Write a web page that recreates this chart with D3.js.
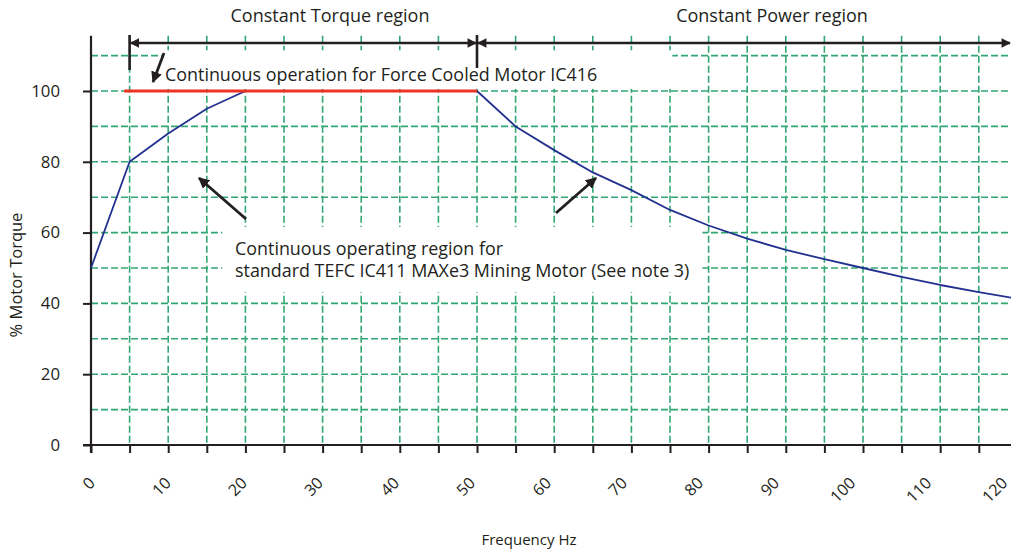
<!DOCTYPE html>
<html>
<head>
<meta charset="utf-8">
<script src="https://cdn.jsdelivr.net/npm/d3@7"></script>
<style>
  html, body { margin: 0; padding: 0; background: #fff; }
  svg { display: block; font-family: "Open Sans", "Noto Sans", sans-serif; }
  text { fill: #231f20; }
</style>
</head>
<body>
<svg id="chart" width="1011" height="553"></svg>
<script>
// ---- data ----
const frequency = [0, 5, 10, 15, 20, 50, 55, 60, 65, 70, 75, 80, 85, 90, 95, 100, 105, 110, 115, 120];
const tefcTorque = [50, 80, 88, 95, 100, 100, 90, 83.3, 77, 72, 66.4, 62, 58.3, 55.1, 52.5, 50, 47.5, 45.2, 43.2, 41.3];
const forceCooledFreq = [4.3, 50];
const forceCooledTorque = [100, 100];
const xTickLabels = [0, 10, 20, 30, 40, 50, 60, 70, 80, 90, 100, 110, 120];
const yTickLabels = [0, 20, 40, 60, 80, 100];
const regionNames = ["Constant Torque region", "Constant Power region"];
const regionStart = [5, 50];
const regionEnd = [50, 120];

// ---- setup ----
const svg = d3.select("#chart");
const W = 1011, H = 553;
const x = d3.scaleLinear().domain([0, 50]).range([91, 477]);
const y = d3.scaleLinear().domain([0, 100]).range([445, 91]);
const green = "#33a673", black = "#231f20";

// grid
const gridTop = y(115.6);
const g = svg.append("g");
g.selectAll("line.v").data(d3.range(5, 121, 5)).join("line")
  .attr("x1", d => x(d)).attr("x2", d => x(d))
  .attr("y1", gridTop).attr("y2", y(0))
  .attr("stroke", green).attr("stroke-width", 1.6).attr("stroke-dasharray", "7,3");
g.selectAll("line.h").data(d3.range(10, 111, 10)).join("line")
  .attr("x1", x(0)).attr("x2", W)
  .attr("y1", d => y(d)).attr("y2", d => y(d))
  .attr("stroke", green).attr("stroke-width", 1.6).attr("stroke-dasharray", "7,3");

// white masks behind annotation texts
svg.append("rect").attr("x", x(9.3)).attr("y", y(111.5)).attr("width", x(75.3) - x(9.3)).attr("height", y(100.6) - y(111.5)).attr("fill", "#fff");
svg.append("rect").attr("x", x(17.0)).attr("y", y(61.6)).attr("width", x(79.2) - x(17.0)).attr("height", y(43.2) - y(61.6)).attr("fill", "#fff");

// axes
const xAxis = d3.axisBottom(x).tickValues(d3.range(0, 121, 5)).tickSize(8).tickFormat("");
const xa = svg.append("g").attr("transform", `translate(0,${y(0)})`).call(xAxis);
xa.select(".domain").remove();
xa.selectAll(".tick line").attr("stroke", black).attr("stroke-width", 2);
svg.append("line").attr("x1", 83).attr("x2", W).attr("y1", y(0)).attr("y2", y(0)).attr("stroke", black).attr("stroke-width", 2.2);

const yAxis = d3.axisLeft(y).tickValues(yTickLabels).tickSize(8).tickPadding(23);
const ya = svg.append("g").attr("transform", `translate(${x(0)},0)`).call(yAxis);
ya.select(".domain").remove();
ya.selectAll(".tick line").attr("stroke", black).attr("stroke-width", 2);
ya.selectAll(".tick text").attr("font-size", 16.8).attr("font-family", "Open Sans").attr("fill", black);
svg.append("line").attr("x1", x(0)).attr("x2", x(0)).attr("y1", gridTop).attr("y2", y(0) + 8).attr("stroke", black).attr("stroke-width", 2.2);

// x tick labels rotated
svg.append("g").selectAll("text").data(xTickLabels).join("text")
  .attr("transform", d => `translate(${x(d) + 1 - d * 0.116},${480}) rotate(-45)`)
  .attr("text-anchor", "end").attr("dy", "0.35em")
  .attr("font-size", 16).text(d => d);

// axis titles
svg.append("text").attr("x", 529).attr("y", 545).attr("text-anchor", "middle").attr("font-size", 15).text("Frequency Hz");
svg.append("text").attr("transform", `translate(22,${275}) rotate(-90)`).attr("text-anchor", "middle").attr("font-size", 16.5).text("% Motor Torque");

// blue TEFC curve
svg.append("path").datum(d3.zip(frequency, tefcTorque))
  .attr("d", d3.line().x(d => x(d[0])).y(d => y(d[1])))
  .attr("stroke", "#22318f").attr("stroke-width", 1.8).attr("fill", "none").attr("stroke-linejoin", "round");

// red force-cooled line
svg.append("path").datum(d3.zip(forceCooledFreq, forceCooledTorque))
  .attr("d", d3.line().x(d => x(d[0])).y(d => y(d[1])))
  .attr("stroke", "#ee3224").attr("stroke-width", 3.2).attr("fill", "none");

// arrow marker
const defs = svg.append("defs");
defs.append("marker").attr("id", "ah").attr("viewBox", "0 0 10 10").attr("refX", 9).attr("refY", 5)
  .attr("markerWidth", 4).attr("markerHeight", 4).attr("orient", "auto-start-reverse").attr("markerUnits", "strokeWidth")
  .append("path").attr("d", "M0,0 L10,5 L0,10 Z").attr("fill", black);
defs.append("marker").attr("id", "ah2").attr("viewBox", "0 0 10 10").attr("refX", 9).attr("refY", 5)
  .attr("markerWidth", 4.2).attr("markerHeight", 3.6).attr("orient", "auto-start-reverse").attr("markerUnits", "strokeWidth")
  .append("path").attr("d", "M0,0 L10,5 L0,10 Z").attr("fill", black);

// region arrows
const arrowY = 43;
regionNames.forEach((name, i) => {
  const x1 = x(regionStart[i]) + 1, x2 = Math.min(x(regionEnd[i]), W) - 1;
  svg.append("line").attr("x1", x1).attr("x2", x2).attr("y1", arrowY).attr("y2", arrowY)
    .attr("stroke", black).attr("stroke-width", 2.6)
    .attr("marker-start", "url(#ah2)").attr("marker-end", "url(#ah2)");
});
svg.append("line").attr("x1", x(5)).attr("x2", x(5)).attr("y1", 35).attr("y2", 70).attr("stroke", black).attr("stroke-width", 2.6);
svg.append("line").attr("x1", x(50)).attr("x2", x(50)).attr("y1", 35).attr("y2", 68).attr("stroke", black).attr("stroke-width", 2.6);
svg.append("text").attr("x", 330).attr("y", 22).attr("text-anchor", "middle").attr("font-size", 18).text(regionNames[0]);
svg.append("text").attr("x", 772).attr("y", 22).attr("text-anchor", "middle").attr("font-size", 18).text(regionNames[1]);

// annotation arrows
function arrow(x1, y1, x2, y2) {
  svg.append("line").attr("x1", x1).attr("y1", y1).attr("x2", x2).attr("y2", y2)
    .attr("stroke", black).attr("stroke-width", 2.8).attr("marker-end", "url(#ah)");
}
arrow(164, 53, 153, 82);
arrow(246, 219, 199, 178);
arrow(556, 213, 596, 178);

// annotation texts
svg.append("text").attr("x", 165).attr("y", 81).attr("font-size", 17.9).text("Continuous operation for Force Cooled Motor IC416");
svg.append("text").attr("x", 235).attr("y", 255).attr("font-size", 17.9).text("Continuous operating region for");
svg.append("text").attr("x", 235).attr("y", 277).attr("font-size", 17.9).text("standard TEFC IC411 MAXe3 Mining Motor (See note 3)");
</script>
</body>
</html>
